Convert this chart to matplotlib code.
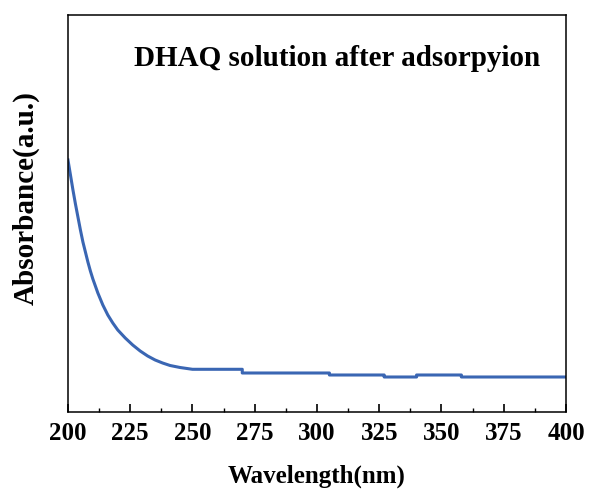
import matplotlib.pyplot as plt
from matplotlib.ticker import MultipleLocator

# Data (arbitrary absorbance units)
wavelength = [200, 201, 202, 203, 204, 205, 206, 207, 208, 209, 210, 212, 214, 216, 218,
              220, 223, 226, 229, 232, 235, 238, 241, 245, 250,
              270.0, 270.0, 305.0, 305.0, 327.0, 327.0, 340.0, 340.0,
              358.0, 358.0, 400.0]
absorbance = [252, 237, 222, 208, 195, 182, 170, 160, 150, 141, 133, 119, 107, 97, 89,
              82, 74, 67, 61, 56, 52, 49, 46.5, 44.5, 42.7,
              42.7, 39, 39, 37, 37, 35, 35, 37,
              37, 35, 35]

xticks = [200, 225, 250, 275, 300, 325, 350, 375, 400]
title_text = "DHAQ solution after adsorpyion"

plt.rcParams["font.family"] = ["Liberation Serif", "DejaVu Serif"]
plt.rcParams["font.weight"] = "bold"

fig = plt.figure(figsize=(5.89, 4.91), dpi=100)
ax = fig.add_axes([0.1154, 0.1609, 0.8455, 0.8086])

ax.plot(wavelength, absorbance, color="#3a66b3", linewidth=2.2)

ax.set_xlim(200, 400)
ax.set_ylim(0, 397)
ax.set_xticks(xticks)
ax.xaxis.set_minor_locator(MultipleLocator(12.5))
ax.set_yticks([])

ax.tick_params(axis="x", which="major", direction="in", length=6, width=1.2,
               labelsize=18, pad=7, top=False)
ax.tick_params(axis="x", which="minor", direction="in", length=3, width=1.0, top=False)
for lab in ax.get_xticklabels():
    lab.set_fontweight("bold")

for side in ax.spines.values():
    side.set_linewidth(1.1)

ax.set_xlabel("Wavelength(nm)", fontsize=18, fontweight="bold", labelpad=14)
ax.set_ylabel("Absorbance(a.u.)", fontsize=21, fontweight="bold")
ax.yaxis.set_label_coords(-0.056, 0.54)

ax.text(0.54, 0.89, title_text, transform=ax.transAxes, ha="center", va="center",
        fontsize=21, fontweight="bold")

fig.savefig("out.png", dpi=100)
